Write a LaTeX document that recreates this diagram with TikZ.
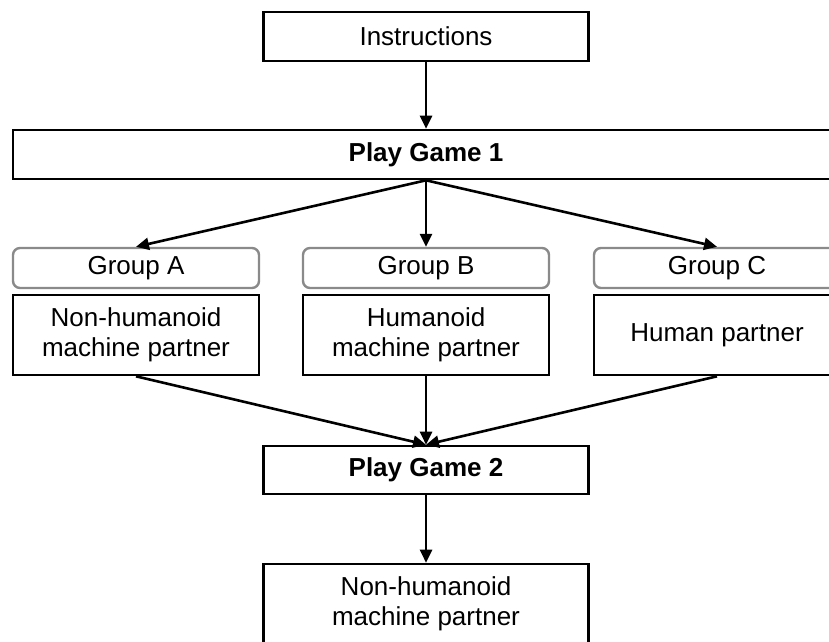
\documentclass[tikz,border=0pt]{standalone}
\usepackage{fontspec}
\setmainfont{Liberation Sans}
\usetikzlibrary{arrows.meta}
\definecolor{grigio}{HTML}{8A8A8A}

\tikzset{
  testo/.style={font=\fontsize{26}{30}\selectfont},
  box/.style={draw, line width=2.6pt, minimum width=325pt, minimum height=49pt,
    inner sep=0pt, align=center, testo},
  gruppo/.style={draw=grigio, line width=2.4pt, rounded corners=7pt,
    minimum width=246pt, minimum height=40pt, inner sep=0pt, testo},
  partner/.style={box, minimum width=246pt, minimum height=80pt},
  freccia/.style={-{Triangle[length=13pt,width=12pt]}, line width=2.6pt},
  linea/.style={line width=2.6pt}
}

\begin{document}
\begin{tikzpicture}[x=1pt, y=-1pt]
  \useasboundingbox (0,0) rectangle (829,641);
  \clip (0,0) rectangle (829,641);
  % Istruzioni e primo gioco
  \node[box] (istruzioni) at (426,36.5) {Instructions};
  \node[box, minimum width=826pt] (gioco1) at (426,154.5) {\textbf{Play Game 1}};
  % Gruppi
  \foreach \g/\x in {A/136, B/426, C/717} {
    \node[gruppo] (gruppo\g) at (\x,268) {Group \g};
  }
  \node[partner] (partnerA) at (136,335) {Non-humanoid\\machine partner};
  \node[partner] (partnerB) at (426,335) {Humanoid\\machine partner};
  \node[partner] (partnerC) at (717,335) {Human partner};
  % Secondo gioco
  \node[box, minimum height=48pt] (gioco2) at (426,470) {\textbf{Play Game 2}};
  \node[box, minimum height=80pt] (finale) at (426,604) {Non-humanoid\\machine partner};
  % Frecce
  \draw[freccia] (istruzioni.south) -- (gioco1.north);
  \foreach \g in {A, B, C} {
    \draw[freccia] (gioco1.south) -- (gruppo\g.north);
    \draw[freccia] (partner\g.south) -- (gioco2.north);
  }
  \draw[freccia] (gioco2.south) -- (finale.north);
\end{tikzpicture}
\end{document}
